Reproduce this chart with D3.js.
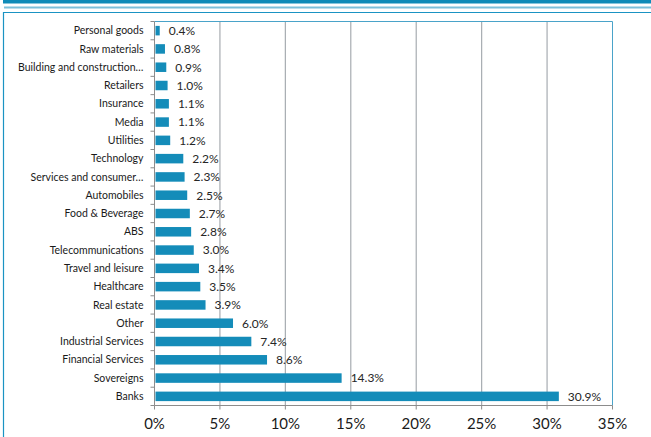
<!DOCTYPE html>
<html><head><meta charset="utf-8">
<script src="https://cdn.jsdelivr.net/npm/d3@7"></script>
<style>
html,body{margin:0;padding:0;background:#fff;}
svg{display:block;}
text{font-family:Lato,"Open Sans",sans-serif;}
</style></head>
<body>
<script>
const categories = ["Personal goods","Raw materials","Building and construction…","Retailers","Insurance","Media","Utilities","Technology","Services and consumer…","Automobiles","Food & Beverage","ABS","Telecommunications","Travel and leisure","Healthcare","Real estate","Other","Industrial Services","Financial Services","Sovereigns","Banks"];
const values = [0.4,0.8,0.9,1.0,1.1,1.1,1.2,2.2,2.3,2.5,2.7,2.8,3.0,3.4,3.5,3.9,6.0,7.4,8.6,14.3,30.9];
const xTicks = [0,5,10,15,20,25,30,35];

(function(){
const W = 651, H = 437;
const svg = d3.select("body").append("svg").attr("width", W).attr("height", H);

// frame decorations
svg.append("rect").attr("x",3).attr("y",0).attr("width",W-3).attr("height",3.5).attr("fill","#0f8bb8");
svg.append("rect").attr("x",4).attr("y",6.5).attr("width",W-4).attr("height",2).attr("fill","#7cc0da");
svg.append("line").attr("x1",3.5).attr("x2",W).attr("y1",12.5).attr("y2",12.5).attr("stroke","#1a93c3").attr("stroke-width",1.2);
svg.append("line").attr("x1",3.5).attr("x2",3.5).attr("y1",12).attr("y2",H).attr("stroke","#1a93c3").attr("stroke-width",1.2);

const pL = 154.5, pR = 612.5, pT = 21.5, pB = 405.5;
const x = d3.scaleLinear().domain([0,35]).range([pL,pR]);
const y = d3.scaleBand().domain(categories).range([pT,pB]).paddingInner(0.48).paddingOuter(0.24);
const yb = d3.scaleBand().domain(categories).range([pT,pB]);

// gridlines
svg.append("g").selectAll("line").data(xTicks.filter(t=>t>0 && t<35)).join("line")
  .attr("x1",d=>x(d)).attr("x2",d=>x(d)).attr("y1",pT).attr("y2",pB)
  .attr("stroke","#a7acb1").attr("stroke-width",1.2);

// plot border top/right
svg.append("line").attr("x1",pL).attr("x2",pR).attr("y1",pT).attr("y2",pT).attr("stroke","#4aa3c9").attr("stroke-width",1);
svg.append("line").attr("x1",pR).attr("x2",pR).attr("y1",pT).attr("y2",pB).attr("stroke","#4aa3c9").attr("stroke-width",1);

// bars
svg.append("g").selectAll("rect").data(categories).join("rect")
  .attr("x",x(0)+1).attr("y",d=>y(d)).attr("height",y.bandwidth())
  .attr("width",(d,i)=>x(values[i])-x(0)-1).attr("fill","#148cb9");

// value labels
svg.append("g").selectAll("text").data(categories).join("text")
  .attr("x",(d,i)=>x(values[i])+9).attr("y",d=>y(d)+y.bandwidth()/2).attr("dy","0.36em")
  .attr("font-size",12).attr("fill","#262626")
  .text((d,i)=>values[i].toFixed(1)+"%");

// y axis
const yAxis = svg.append("g").attr("transform",`translate(${pL},0)`);
yAxis.append("line").attr("x1",0).attr("x2",0).attr("y1",pT).attr("y2",pB).attr("stroke","#8c8c8c");
yAxis.selectAll("line.tk").data(categories.concat(["_end"])).join("line").attr("class","tk")
  .attr("x1",-4).attr("x2",0)
  .attr("y1",(d,i)=>i<categories.length?yb(d):pB).attr("y2",(d,i)=>i<categories.length?yb(d):pB)
  .attr("stroke","#8c8c8c");
yAxis.selectAll("text").data(categories).join("text")
  .attr("x",-11).attr("y",d=>yb(d)+yb.bandwidth()/2).attr("dy","0.35em")
  .attr("text-anchor","end").attr("font-size",10.5).attr("fill","#1a1a1a").text(d=>d);

// x axis
const xAxis = svg.append("g").attr("transform",`translate(0,${pB})`);
xAxis.append("line").attr("x1",pL).attr("x2",pR).attr("stroke","#8c8c8c");
xAxis.selectAll("line.tk").data(xTicks).join("line").attr("class","tk")
  .attr("x1",d=>x(d)).attr("x2",d=>x(d)).attr("y1",0).attr("y2",4).attr("stroke","#8c8c8c");
xAxis.selectAll("text").data(xTicks).join("text")
  .attr("x",d=>x(d)).attr("y",18).attr("dy","0.35em").attr("text-anchor","middle")
  .attr("font-family","'Liberation Sans',Arial,sans-serif")
  .attr("font-size",15).attr("fill","#1a1a1a").text(d=>d+"%");
})();
</script>
</body></html>
